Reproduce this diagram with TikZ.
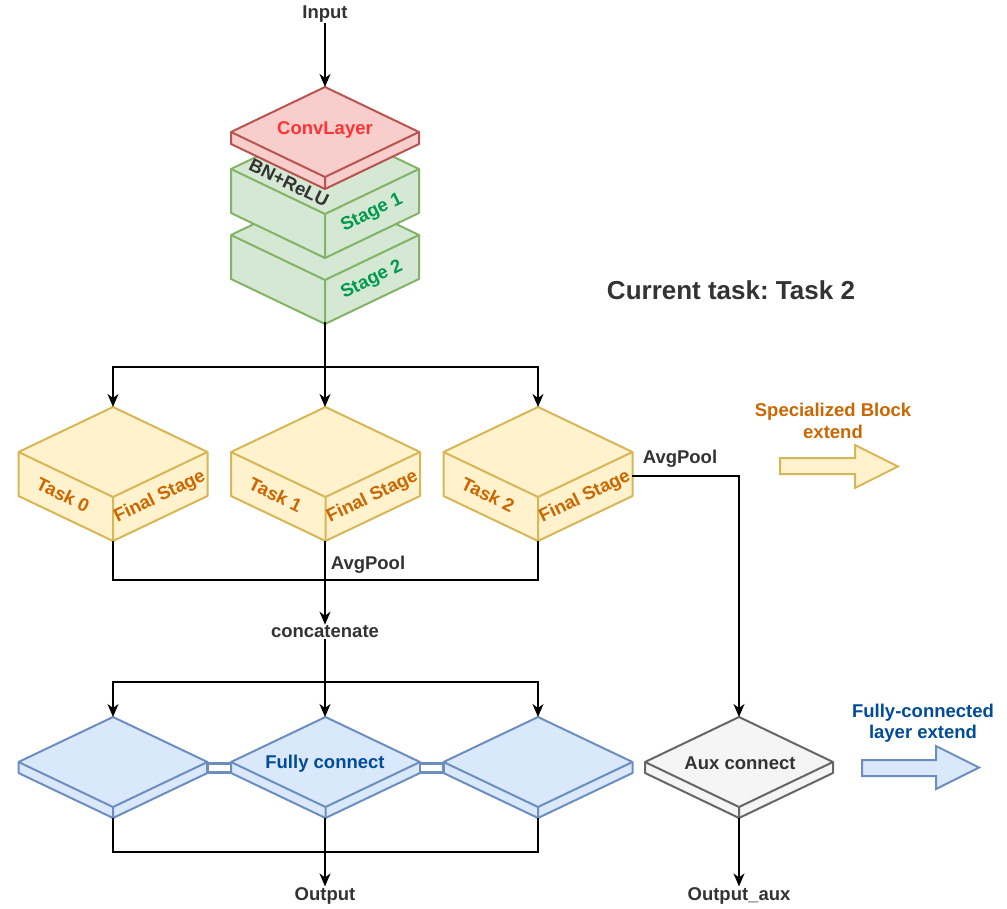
\documentclass[tikz,border=0pt]{standalone}
\usepackage{fontspec}
\setmainfont{Liberation Sans}
\usetikzlibrary{arrows.meta}
\frenchspacing
\definecolor{yfill}{HTML}{FFF2CC}\definecolor{ydraw}{HTML}{D6B656}
\definecolor{gfill}{HTML}{D5E8D4}\definecolor{gdraw}{HTML}{82B366}
\definecolor{rfill}{HTML}{F8CECC}\definecolor{rdraw}{HTML}{B85450}
\definecolor{bfill}{HTML}{DAE8FC}\definecolor{bdraw}{HTML}{6C8EBF}
\definecolor{afill}{HTML}{F5F5F5}\definecolor{adraw}{HTML}{666666}
\definecolor{txtdark}{HTML}{333333}
\definecolor{txtred}{HTML}{FF3333}
\definecolor{txtgreen}{HTML}{00994D}
\definecolor{txtorange}{HTML}{CC6600}
\definecolor{txtblue}{HTML}{004C99}
% cx, ytop, half-width, half-height, depth, style
\newcommand{\drawisobox}[6]{%
  \filldraw[#6] (#1,#2) -- ({#1+#3},{#2+#4}) -- ({#1+#3},{#2+#4+#5}) -- (#1,{#2+2*#4+#5}) -- ({#1-#3},{#2+#4+#5}) -- ({#1-#3},{#2+#4}) -- cycle;
  \draw[#6] ({#1-#3},{#2+#4}) -- (#1,{#2+2*#4}) -- ({#1+#3},{#2+#4}) (#1,{#2+2*#4}) -- (#1,{#2+2*#4+#5});
}
\tikzset{
  lbl/.style={font=\fontsize{18.5}{21.5}\selectfont\bfseries, text=txtdark, inner sep=1pt, align=center},
  conn/.style={draw=black, line width=1.5pt},
  arr/.style={conn, -{Stealth[length=13pt,width=11pt,inset=4pt]}},
  ybox/.style={fill=yfill, draw=ydraw, line width=2pt, line join=round},
  gbox/.style={fill=gfill, draw=gdraw, line width=2pt, line join=round},
  rbox/.style={fill=rfill, draw=rdraw, line width=2pt, line join=round},
  bbox/.style={fill=bfill, draw=bdraw, line width=2pt, line join=round},
  abox/.style={fill=afill, draw=adraw, line width=2pt, line join=round},
  linkbar/.style={fill=white, draw=bdraw, line width=2.2pt},
  yarrow/.style={fill=yfill, draw=ydraw, line width=2pt, line join=miter},
  barrow/.style={fill=bfill, draw=bdraw, line width=2pt, line join=miter}
}
\begin{document}
\begin{tikzpicture}[x=1pt, y=-1pt]
\useasboundingbox (0,0) rectangle (1007,909);

% --- backbone ---
\drawisobox{325}{190}{94}{45}{44}{gbox}
\drawisobox{325}{124}{94}{45}{44}{gbox}
\drawisobox{325}{87}{94}{45}{12}{rbox}
\node[lbl, text=txtred] (conv) at (325,130) {ConvLayer};
\node[lbl, rotate=-26] (bnrelu) at (289,183) {BN+ReLU};
\node[lbl, text=txtgreen, rotate=26] (st1) at (372,213) {Stage 1};
\node[lbl, text=txtgreen, rotate=26] (st2) at (372,280) {Stage 2};

% --- task cubes ---
\drawisobox{113}{407}{94.5}{45}{44}{ybox}
\drawisobox{325.5}{407}{94.5}{45}{44}{ybox}
\drawisobox{538}{407}{94.5}{45}{44}{ybox}
\foreach \cx/\t in {113/0, 325.5/1, 538/2}{
  \node[lbl, text=txtorange, rotate=-26] (task\t) at ({\cx-50},495) {Task \t};
  \node[lbl, text=txtorange, rotate=26] (fin\t) at ({\cx+47},497) {Final Stage};
}

% --- fully connected plates ---
\drawisobox{113}{717}{94.5}{45}{11}{bbox}
\drawisobox{325.5}{717}{94.5}{45}{11}{bbox}
\drawisobox{538}{717}{94.5}{45}{11}{bbox}
\drawisobox{739}{717}{94}{45}{11}{abox}
\filldraw[linkbar] (207.5,763.5) rectangle (231,772.5);
\filldraw[linkbar] (420,763.5) rectangle (443.5,772.5);
\node[lbl, text=txtblue] (fc) at (325,764) {Fully connect};
\node[lbl] (aux) at (740,763) {Aux connect};

% --- extend arrows ---
\filldraw[yarrow] (780,458) -- (855,458) -- (855,445) -- (898,466.5) -- (855,488) -- (855,474) -- (780,474) -- cycle;
\node[lbl, text=txtorange] (spec) at (833,421) {Specialized Block\\extend};
\filldraw[barrow] (862,760) -- (936,760) -- (936,746) -- (979,767.5) -- (936,789) -- (936,776) -- (862,776) -- cycle;
\node[lbl, text=txtblue] (fcext) at (923,723) {Fully-connected\\layer extend};

\node[font=\fontsize{26}{30}\selectfont\bfseries, text=txtdark] (cur) at (731,290) {Current task: Task 2};

% --- labels ---
\node[lbl] (input) at (325,14) {Input};
\node[lbl] (avg1) at (368,565) {AvgPool};
\node[lbl] (avg2) at (680,459) {AvgPool};
\node[lbl] (concat) at (325,632) {concatenate};
\node[lbl] (output) at (325,896) {Output};
\node[lbl] (outaux) at (739,896) {Output\_aux};

% --- coordinates ---
\coordinate (convtop) at (325,87);
\coordinate (st2bot) at (325,322);
\coordinate (split1) at (325,367);
\coordinate (t0top) at (113,407);
\coordinate (t1top) at (325,407);
\coordinate (t2top) at (538,407);
\coordinate (t0bot) at (113,541);
\coordinate (t1bot) at (325,541);
\coordinate (t2bot) at (538,541);
\coordinate (join1) at (325,580);
\coordinate (t2right) at (632,476);
\coordinate (split2) at (325,682);
\coordinate (fc0top) at (113,717);
\coordinate (fc1top) at (325,717);
\coordinate (fc2top) at (538,717);
\coordinate (fc0bot) at (113,818);
\coordinate (fc1bot) at (325,818);
\coordinate (fc2bot) at (538,818);
\coordinate (join2) at (325,852);
\coordinate (auxtop) at (739,717);
\coordinate (auxbot) at (739,818);

% --- connectors ---
\draw[arr] (input.south) -- (convtop);
\draw[conn] (st2bot) -- (split1);
\draw[arr] (split1) -| (t0top);
\draw[arr] (split1) -- (t1top);
\draw[arr] (split1) -| (t2top);
\draw[conn] (t0bot) |- (join1);
\draw[conn] (t2bot) |- (join1);
\draw[arr] (t1bot) -- (concat.north);
\draw[conn] (concat.south) -- (split2);
\draw[arr] (split2) -| (fc0top);
\draw[arr] (split2) -- (fc1top);
\draw[arr] (split2) -| (fc2top);
\draw[conn] (fc0bot) |- (join2);
\draw[conn] (fc2bot) |- (join2);
\draw[arr] (fc1bot) -- (output.north);
\draw[arr] (t2right) -| (auxtop);
\draw[arr] (auxbot) -- (outaux.north);
\end{tikzpicture}
\end{document}
